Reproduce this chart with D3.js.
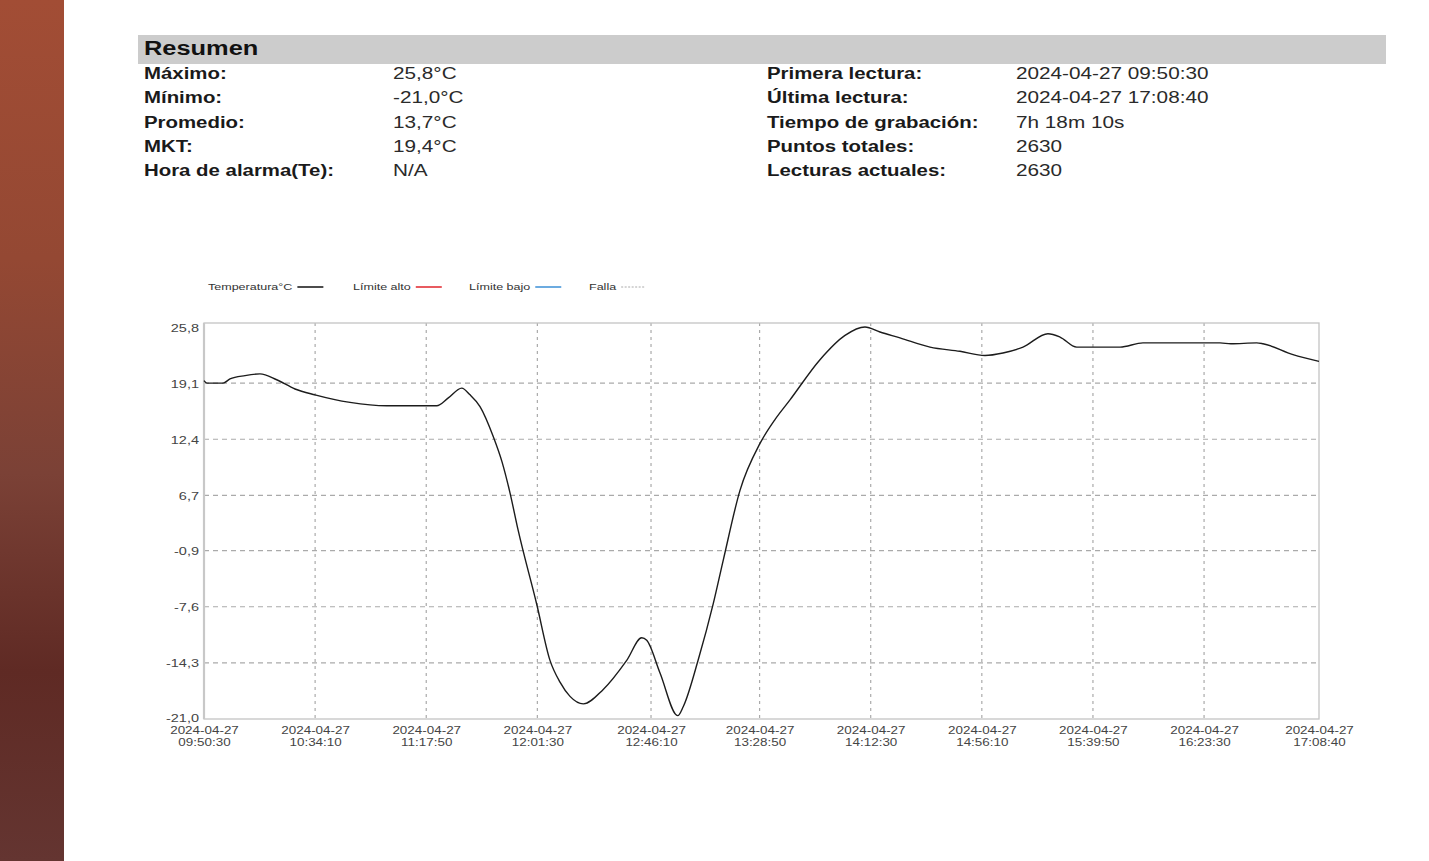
<!DOCTYPE html>
<html>
<head>
<meta charset="utf-8">
<script src="https://cdn.jsdelivr.net/npm/d3@7"></script>
<style>
  html, body { margin: 0; padding: 0; background: #fff; }
  svg { display: block; }
</style>
</head>
<body>
<svg id="chart" width="1429" height="861"></svg>
<script>
// ---------------- data ----------------
const summaryLeftLabels = ["Máximo:", "Mínimo:", "Promedio:", "MKT:", "Hora de alarma(Te):"];
const summaryLeftValues = ["25,8°C", "-21,0°C", "13,7°C", "19,4°C", "N/A"];
const summaryRightLabels = ["Primera lectura:", "Última lectura:", "Tiempo de grabación:", "Puntos totales:", "Lecturas actuales:"];
const summaryRightValues = ["2024-04-27 09:50:30", "2024-04-27 17:08:40", "7h 18m 10s", "2630", "2630"];

const legendNames = ["Temperatura°C", "Límite alto", "Límite bajo", "Falla"];
const legendColors = ["#111111", "#e0252b", "#3b8fd6", "#aaaaaa"];

const yTickValues = [25.8, 19.1, 12.4, 5.7, -0.9, -7.6, -14.3, -21.0];
const yTickLabels = ["25,8", "19,1", "12,4", "6,7", "-0,9", "-7,6", "-14,3", "-21,0"];

const xTickTimes = ["09:50:30", "10:34:10", "11:17:50", "12:01:30", "12:46:10", "13:28:50",
                    "14:12:30", "14:56:10", "15:39:50", "16:23:30", "17:08:40"];
const dateStr = "2024-04-27";

const readingTimes = ["09:50:30","09:51:40","09:58:00","10:00:43","10:06:37","10:12:30","10:19:04","10:26:16",
  "10:34:07","10:47:53","11:02:18","11:21:57","11:26:23","11:31:47","11:35:02","11:38:58","11:44:12",
  "11:47:37","11:50:45","11:53:54","12:01:15","12:06:28","12:10:24","12:14:20",
  "12:19:34","12:27:18","12:36:37","12:42:31","12:44:29","12:49:42","12:56:40","12:58:52","13:04:45",
  "13:10:39","13:14:35","13:21:08","13:29:00","13:35:00","13:40:47","13:52:34","14:02:24","14:10:15","14:16:09",
  "14:24:00","14:35:48","14:47:35","14:57:25","15:04:29","15:12:21","15:22:10","15:26:53","15:33:27",
  "15:50:28","15:59:30","16:29:46","16:34:00","16:44:11","16:46:40","16:58:27","17:08:40"];
const readingTemps = [19.4, 19.1, 19.1, 19.6, 20.0, 20.2, 19.5, 18.4,
  17.7, 16.8, 16.4, 16.4, 17.3, 18.5, 17.7, 16.3, 12.7,
  9.7, 6.0, 1.6, -7.3, -14.0, -16.6, -18.3,
  -19.2, -17.5, -14.0, -11.3, -11.6, -15.5, -20.6, -19.5, -13.9,
  -7.2, -2.0, 6.3, 11.9, 14.8, 17.1, 21.9, 24.8, 25.8, 25.2,
  24.5, 23.4, 22.9, 22.4, 22.7, 23.4, 25.0, 24.6, 23.4,
  23.4, 23.9, 23.9, 23.8, 23.9, 23.8, 22.5, 21.7];

// ---------------- drawing ----------------
const svg = d3.select("#chart");
const parse = d3.timeParse("%Y-%m-%d %H:%M:%S");
const FONT = "'Liberation Sans', Arial, Helvetica, sans-serif";

// text helper with horizontal stretch (reference text is wide)
function wideText(parent, x, y, str, size, sx, opts = {}) {
  return parent.append("text")
    .attr("transform", `translate(${x},${y}) scale(${sx},1)`)
    .attr("font-family", FONT).attr("font-size", size)
    .attr("font-weight", opts.bold ? "bold" : null)
    .attr("text-anchor", opts.anchor || "start")
    .attr("fill", opts.fill || "#222")
    .text(str);
}

// left decorative gradient bar
const defs = svg.append("defs");
const grad = defs.append("linearGradient").attr("id", "sidebar").attr("x1", 0).attr("y1", 0).attr("x2", 0).attr("y2", 1);
grad.append("stop").attr("offset", "0%").attr("stop-color", "#a24d35");
grad.append("stop").attr("offset", "30%").attr("stop-color", "#944833");
grad.append("stop").attr("offset", "55%").attr("stop-color", "#7b4136");
grad.append("stop").attr("offset", "78%").attr("stop-color", "#5f2a24");
grad.append("stop").attr("offset", "100%").attr("stop-color", "#643531");
svg.append("rect").attr("x", 0).attr("y", 0).attr("width", 64).attr("height", 861).attr("fill", "url(#sidebar)");

// summary header
svg.append("rect").attr("x", 138).attr("y", 35).attr("width", 1248).attr("height", 29).attr("fill", "#cccccc");
wideText(svg, 144, 55, "Resumen", 20, 1.27, { bold: true, fill: "#111" });

const rowY = d3.scalePoint().domain(d3.range(5)).range([79, 176]);
function summaryCol(labels, values, xl, xv) {
  labels.forEach((l, i) => {
    wideText(svg, xl, rowY(i), l, 17, 1.2, { bold: true, fill: "#1a1a1a" });
    wideText(svg, xv, rowY(i), values[i], 17, 1.22, { fill: "#2a2a2a" });
  });
}
summaryCol(summaryLeftLabels, summaryLeftValues, 144, 393);
summaryCol(summaryRightLabels, summaryRightValues, 767, 1016);

// legend
const legendX = [208, 353, 469, 589];
const legendSX = 1.32;
legendNames.forEach((n, i) => {
  const t = wideText(svg, legendX[i], 290, n, 9.5, legendSX, { fill: "#333" });
  const w = t.node().getComputedTextLength() * legendSX;
  const lx = legendX[i] + w + 5;
  svg.append("line").attr("x1", lx).attr("x2", lx + (i === 3 ? 24 : 26))
    .attr("y1", 287).attr("y2", 287)
    .attr("stroke", legendColors[i]).attr("stroke-width", i === 3 ? 1 : 1.5)
    .attr("stroke-dasharray", i === 3 ? "2,1.5" : null);
});

// scales
const t0 = parse(dateStr + " " + xTickTimes[0]);
const t1 = parse(dateStr + " " + xTickTimes[xTickTimes.length - 1]);
const x = d3.scaleTime().domain([t0, t1]).range([204, 1319]);
const y = d3.scaleLinear().domain([-21.0, 25.8]).range([719, 327]);
const plotTop = 323;

// grid: horizontal
svg.append("g").selectAll("line").data(yTickValues.slice(1, -1)).join("line")
  .attr("x1", 204).attr("x2", 1319)
  .attr("y1", d => y(d)).attr("y2", d => y(d))
  .attr("stroke", "#aaaaaa").attr("stroke-width", 1.2).attr("stroke-dasharray", "5,4");

// grid: vertical
const xTickDates = xTickTimes.map(s => parse(dateStr + " " + s));
svg.append("g").selectAll("line").data(xTickDates.slice(1, -1)).join("line")
  .attr("x1", d => x(d)).attr("x2", d => x(d))
  .attr("y1", plotTop).attr("y2", 719)
  .attr("stroke", "#aaaaaa").attr("stroke-width", 1.2).attr("stroke-dasharray", "3,4");

// frame
svg.append("rect").attr("x", 204).attr("y", plotTop).attr("width", 1319 - 204).attr("height", 719 - plotTop)
  .attr("fill", "none").attr("stroke", "#c4c4c4").attr("stroke-width", 1.3);
svg.append("line").attr("x1", 204).attr("x2", 204).attr("y1", plotTop).attr("y2", 719)
  .attr("stroke", "#c8c8c8").attr("stroke-width", 2.2);

// y axis labels (via axis for positions, stretched text)
const yAxis = d3.axisLeft(y).tickValues(yTickValues).tickSize(0).tickFormat("");
const gy = svg.append("g").attr("transform", "translate(204,0)").call(yAxis);
gy.select(".domain").remove();
gy.selectAll(".tick").each(function(d, i) {
  const g = d3.select(this);
  g.select("text").remove();
  const dy = i === yTickValues.length - 1 ? 2 : 4;
  wideText(g, -5, dy, yTickLabels[i], 10, 1.45, { anchor: "end", fill: "#444" });
});

// x axis labels (two lines)
const xAxis = d3.axisBottom(x).tickValues(xTickDates).tickSize(0).tickFormat("");
const gx = svg.append("g").attr("transform", "translate(0,719)").call(xAxis);
gx.select(".domain").remove();
gx.selectAll(".tick").each(function(d, i) {
  const g = d3.select(this);
  g.select("text").remove();
  wideText(g, 0, 15, dateStr, 10.5, 1.28, { anchor: "middle", fill: "#444" });
  wideText(g, 0, 27, xTickTimes[i], 10.5, 1.28, { anchor: "middle", fill: "#444" });
});

// temperature line
const data = readingTimes.map((s, i) => ({ t: parse(dateStr + " " + s), v: readingTemps[i] }));
const line = d3.line().x(d => x(d.t)).y(d => y(d.v)).curve(d3.curveMonotoneX);
svg.append("path").datum(data).attr("d", line)
  .attr("fill", "none").attr("stroke", "#1c1c1c").attr("stroke-width", 1.4);
</script>
</body>
</html>
